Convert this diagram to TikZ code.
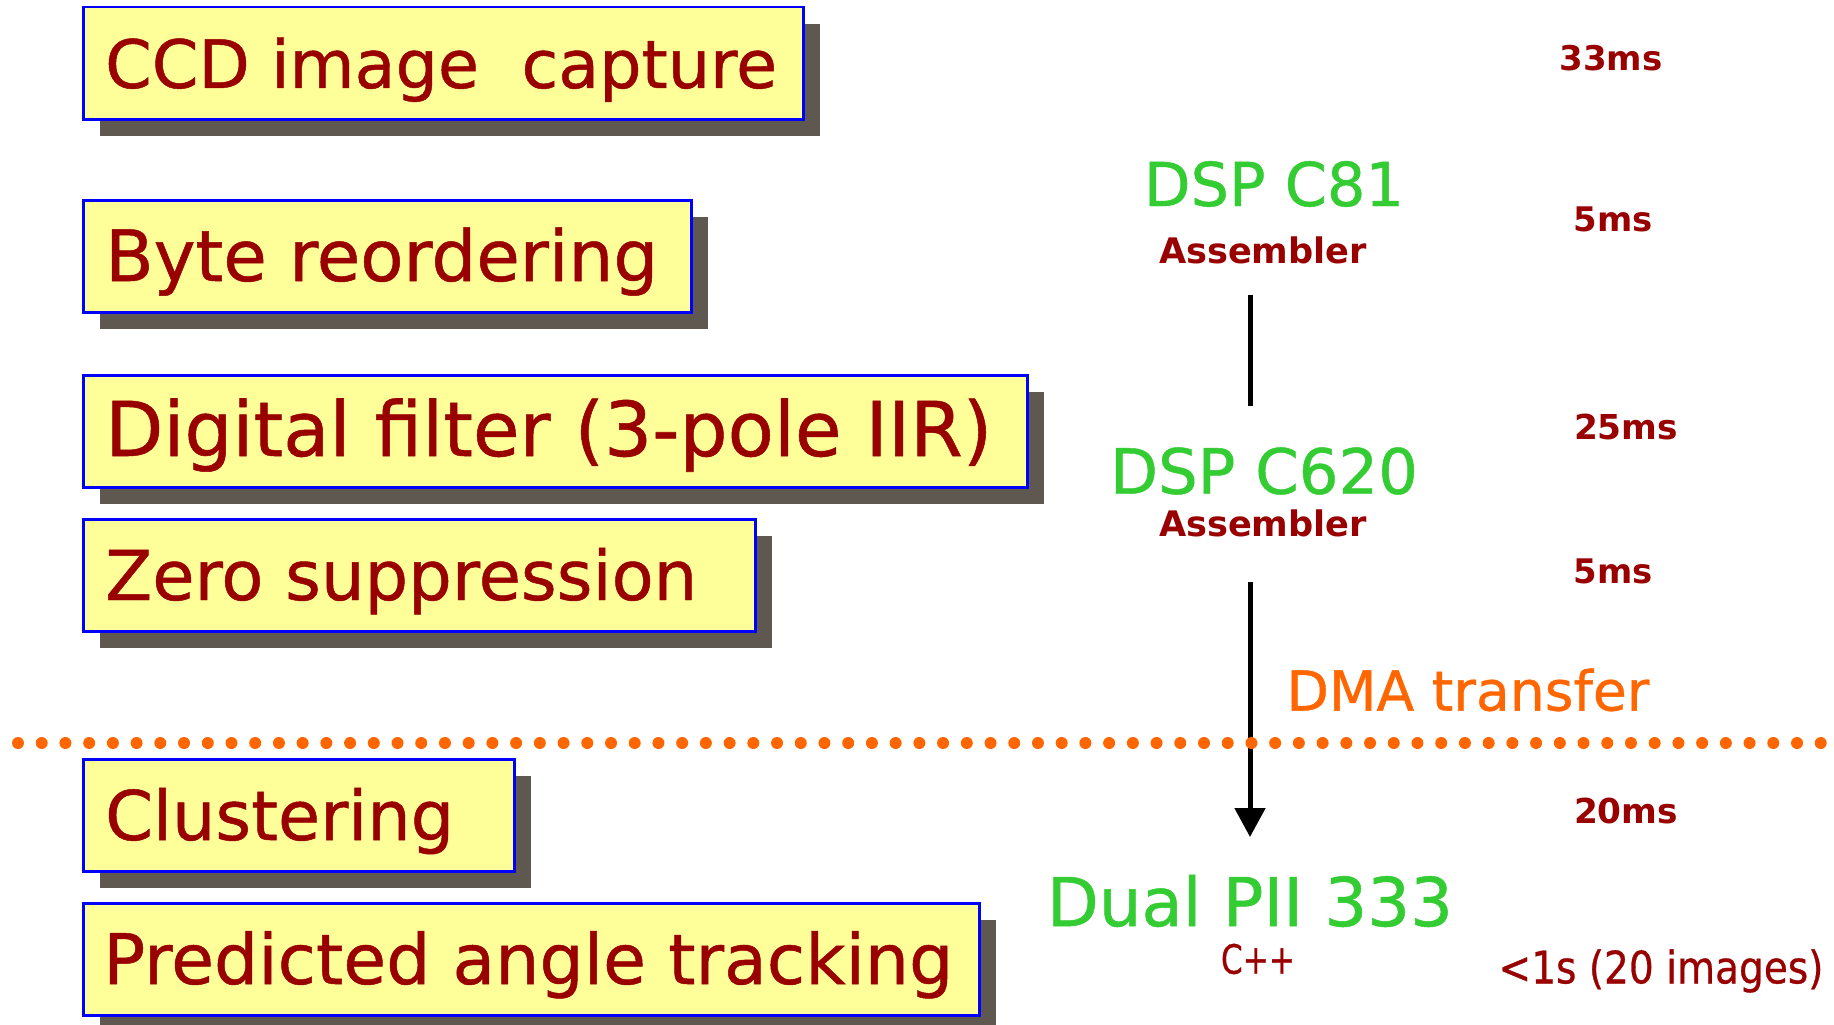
\documentclass[tikz,border=0pt]{standalone}
\usepackage{fontspec}
\setmainfont{DejaVu Sans}
\newfontfamily\thick[FakeBold=0.7]{DejaVu Sans}
\usetikzlibrary{arrows.meta,shadows}
\definecolor{dred}{HTML}{990000}
\definecolor{lgreen}{HTML}{33CC33}
\definecolor{dorange}{HTML}{FF6600}
\definecolor{byellow}{HTML}{FFFF99}
\definecolor{bblue}{HTML}{0000FF}
\definecolor{shad}{HTML}{5F5850}
\newcommand{\fitw}[2]{\resizebox{#1}{!}{#2}}
\begin{document}
\begin{tikzpicture}[x=1pt,y=-1pt,
  procbox/.style={draw=bblue, line width=2.5pt, fill=byellow, anchor=north west, inner sep=0pt,
    minimum height=112pt,
    general shadow={fill=shad, shadow xshift=17pt, shadow yshift=-17pt}},
  proctext/.style={anchor=base west, inner sep=0pt, text=dred, font=\fontsize{60}{60}\thick},
  cpu/.style={inner sep=0pt, text=lgreen, font=\fontsize{40}{40}\thick},
  lang/.style={inner sep=0pt, text=dred, font=\fontsize{30}{30}\selectfont\bfseries},
  timing/.style={inner sep=0pt, text=dred, font=\fontsize{30}{30}\selectfont\bfseries},
  link/.style={line width=5pt, black}]
\useasboundingbox (0,0) rectangle (1834,1025);
\fill[white] (0,0) rectangle (1834,1025);

% process boxes
\node[procbox, minimum width=720pt] (b1) at (82,6) {};
\node[procbox, minimum width=608pt] (b2) at (82,199) {};
\node[procbox, minimum width=944pt] (b3) at (82,374) {};
\node[procbox, minimum width=672pt] (b4) at (82,518) {};
\node[procbox, minimum width=431pt] (b5) at (82,758) {};
\node[procbox, minimum width=896pt] (b6) at (82,902) {};

\node[proctext] (t1) at ([xshift=23pt,yshift=-82pt]b1.north west) {\fitw{672pt}{CCD image\ \ capture}};
\node[proctext] (t2) at ([xshift=23pt,yshift=-82pt]b2.north west) {\fitw{553pt}{Byte reordering}};
\node[proctext] (t3) at ([xshift=23pt,yshift=-82pt]b3.north west) {\fitw{887pt}{Digital filter (3-pole IIR)}};
\node[proctext] (t4) at ([xshift=23pt,yshift=-82pt]b4.north west) {\fitw{592pt}{Zero suppression}};
\node[proctext] (t5) at ([xshift=23pt,yshift=-82pt]b5.north west) {\fitw{349pt}{Clustering}};
\node[proctext] (t6) at ([xshift=21pt,yshift=-82pt]b6.north west) {\fitw{850pt}{Predicted angle tracking}};

% processors
\node[cpu] (dsp1) at (1274,184) {\fitw{260pt}{DSP C81}};
\node[lang] (asm1) at (1263,250) {\fitw{208pt}{Assembler}};
\node[cpu] (dsp2) at (1264,471) {\fitw{308pt}{DSP C620}};
\node[lang] (asm2) at (1263,523) {\fitw{208pt}{Assembler}};
\node[cpu] (pc) at (1250,901) {\fitw{406pt}{Dual PII 333}};
\node[lang, font=\fontsize{40}{40}\thick] (cpp) at (1258,959) {\resizebox{74pt}{30pt}{C++}};

% timings
\node[timing] (m1) at (1611,58) {\fitw{103pt}{33ms}};
\node[timing] (m2) at (1613,219) {\fitw{79pt}{5ms}};
\node[timing] (m3) at (1626,427) {\fitw{104pt}{25ms}};
\node[timing] (m4) at (1613,571) {\fitw{79pt}{5ms}};
\node[timing] (m5) at (1626,811) {\fitw{104pt}{20ms}};
\node[timing, font=\fontsize{30}{30}\thick] (m6) at (1661,971) {\resizebox{325pt}{34pt}{<1s (20 images)}};

\node[inner sep=0pt, text=dorange, font=\fontsize{40}{40}\thick] (dma) at (1468,690) {\fitw{363pt}{DMA transfer}};

% connectors
\coordinate (l1a) at (1250,295);
\coordinate (l1b) at (1250,406);
\draw[link] (l1a) -- (l1b);
\coordinate (l2a) at (1250,582);
\coordinate (l2b) at (1250,837);
\draw[link, -{Triangle[length=29pt,width=30pt]}] (l2a) -- (l2b);

% dotted separator
\coordinate (d1) at (18,743);
\coordinate (d2) at (1826,743);
\draw[dorange, line width=12pt, line cap=round, dash pattern=on 0pt off 23.72pt] (d1) -- (d2);
\end{tikzpicture}
\end{document}
